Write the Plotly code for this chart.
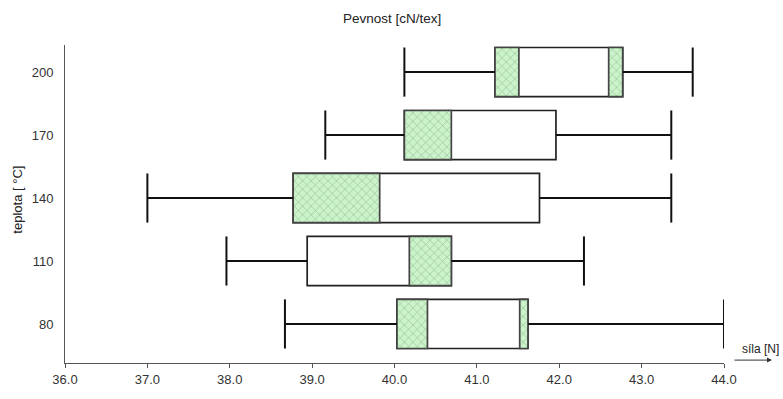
import plotly.graph_objects as go

categories = ["80", "110", "140", "170", "200"]
w_min = [38.67, 37.96, 37.00, 39.16, 40.12]
w_max = [44.00, 42.30, 43.36, 43.36, 43.62]
q1 = [40.03, 38.94, 38.77, 40.12, 41.22]
q3 = [41.62, 40.69, 41.76, 41.96, 42.77]
hatch_a_start = [40.03, 40.18, 38.77, 40.12, 41.22]
hatch_a_end = [40.40, 40.69, 39.82, 40.69, 41.51]
hatch_b_start = [41.52, None, None, None, 42.60]
hatch_b_end = [41.62, None, None, None, 42.77]
x_ticks = [36.0, 37.0, 38.0, 39.0, 40.0, 41.0, 42.0, 43.0, 44.0]

FONT = "Liberation Sans"
BW = 0.78
ypos = list(range(len(categories)))

fig = go.Figure()

# whiskers
wx, wy = [], []
for i, y in enumerate(ypos):
    wx += [w_min[i], q1[i], None, q3[i], w_max[i], None,
           w_min[i], w_min[i], None, w_max[i], w_max[i], None]
    wy += [y, y, None, y, y, None,
           y - BW / 2, y + BW / 2, None, y - BW / 2, y + BW / 2, None]
fig.add_trace(go.Scatter(x=wx, y=wy, mode="lines",
                         line=dict(color="#111111", width=2),
                         hoverinfo="skip", showlegend=False))

# white box
fig.add_trace(go.Bar(y=ypos, x=[q3[i] - q1[i] for i in ypos], base=q1,
                     orientation="h", width=BW,
                     marker=dict(color="white", line=dict(color="#222222", width=1.7)),
                     showlegend=False))

pat = dict(shape="x", fgcolor="#4f944f", bgcolor="#cdf3cd", size=6, solidity=0.2)

# hatched segments
ya = [ypos[i] for i in ypos if hatch_a_start[i] is not None]
fig.add_trace(go.Bar(y=ya,
                     x=[hatch_a_end[i] - hatch_a_start[i] for i in ya],
                     base=[hatch_a_start[i] for i in ya],
                     orientation="h", width=BW,
                     marker=dict(color="#cdf3cd", pattern=pat,
                                 line=dict(color="#444444", width=1.7)),
                     showlegend=False))
yb = [ypos[i] for i in ypos if hatch_b_start[i] is not None]
fig.add_trace(go.Bar(y=yb,
                     x=[hatch_b_end[i] - hatch_b_start[i] for i in yb],
                     base=[hatch_b_start[i] for i in yb],
                     orientation="h", width=BW,
                     marker=dict(color="#cdf3cd", pattern=pat,
                                 line=dict(color="#444444", width=1.7)),
                     showlegend=False))

W, H = 783, 399
ML, MR, MT, MB = 65, 59, 45, 25
pw, ph = W - ML - MR, H - MT - MB
def px(x):
    return (x - ML) / pw
def py(y):
    return (H - MB - y) / ph

fig.update_layout(
    width=W, height=H,
    margin=dict(l=ML, r=MR, t=MT, b=MB),
    plot_bgcolor="white", paper_bgcolor="white",
    barmode="overlay",
    font=dict(family=FONT, size=13, color="#333333"),
    xaxis=dict(range=[36, 44], tickvals=x_ticks,
               ticktext=[f"{v:.1f}" for v in x_ticks],
               showgrid=False, zeroline=False, showline=True,
               linecolor="#555555", linewidth=1,
               ticks="outside", ticklen=4, tickcolor="#555555"),
    yaxis=dict(range=[-0.62, 4.43], tickvals=ypos, ticktext=categories,
               showgrid=False, zeroline=False, showline=True,
               linecolor="#555555", linewidth=1, ticks="", ticklabelstandoff=8),
    annotations=[
        dict(text="Pevnost [cN/tex]", x=px(392), y=py(18), xref="paper", yref="paper",
             xanchor="center", yanchor="middle",
             showarrow=False, font=dict(size=13.5, color="#222222")),
        dict(text="teplota [ °C]", textangle=-90, x=px(18), y=py(205),
             xref="paper", yref="paper", xanchor="center", yanchor="middle",
             showarrow=False, font=dict(size=13, color="#222222")),
        dict(text="síla [N]", x=px(760), y=py(359), xref="paper", yref="paper",
             xanchor="center", yanchor="middle",
             showarrow=False, font=dict(size=12, color="#222222")),
        dict(text="", x=px(772), y=py(371), xref="paper", yref="paper",
             ax=-39, ay=0, axref="pixel", ayref="pixel",
             showarrow=True, arrowhead=2, arrowsize=1, arrowwidth=1,
             arrowcolor="#333333"),
    ],
)

fig.write_html("out.html", config={"displayModeBar": False},
               post_script="document.body.style.margin='0';document.body.style.overflow='hidden';")
